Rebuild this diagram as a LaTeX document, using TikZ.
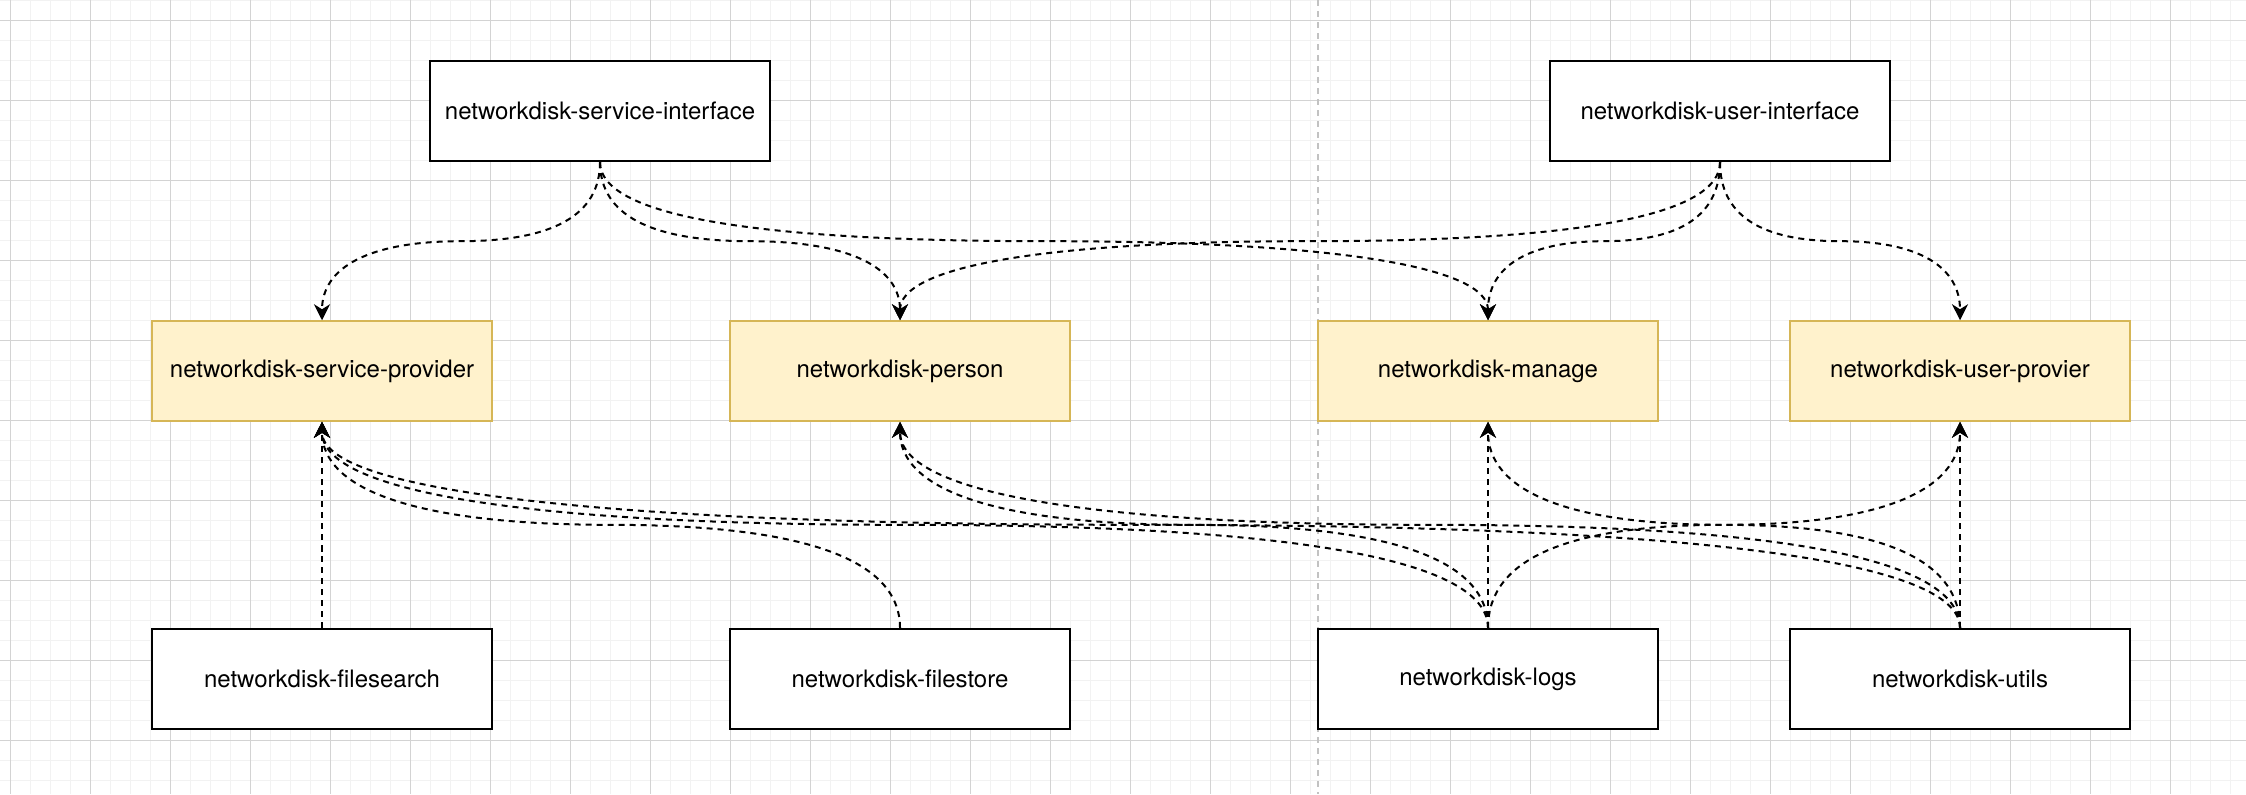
\documentclass[tikz,border=0pt]{standalone}
\usepackage{fontspec}
\setmainfont{TeX Gyre Heros}
\usetikzlibrary{arrows.meta,calc}
\definecolor{gridmajor}{HTML}{D3D3D3}
\definecolor{gridminor}{HTML}{F2F2F2}
\definecolor{provfill}{HTML}{FFF2CC}
\definecolor{provline}{HTML}{D6B656}
\definecolor{sepline}{HTML}{C2C2C2}

\begin{document}
\begin{tikzpicture}[x=0.5pt,y=-0.5pt,
  modul/.style={rectangle,draw=black,line width=1.1pt,fill=white,minimum width=170pt,minimum height=50pt,inner sep=0pt,font=\fontsize{12pt}{14pt}\selectfont},
  prov/.style={modul,draw=provline,line width=0.75pt,fill=provfill},
  dep/.style={line width=1pt,dash pattern=on 3pt off 2.5pt,-{Stealth[length=8pt,width=8pt,inset=2.5pt]},
    to path={let \p1=(\tikztostart),\p2=(\tikztotarget) in
      .. controls (\x1,{\y1+(\y2-\y1)/3}) and ({\x1+(\x2-\x1)/6},{(\y1+\y2)/2})
      .. ({(\x1+\x2)/2},{(\y1+\y2)/2})
      .. controls ({\x2-(\x2-\x1)/6},{(\y1+\y2)/2}) and (\x2,{\y2-(\y2-\y1)/3})
      .. (\tikztotarget)}},
]
\useasboundingbox (0,0) rectangle (2246,794);

%grid
\foreach \gx in {10,30,...,2230} \draw[gridminor,line width=0.5pt] (\gx,0) -- (\gx,794);
\foreach \gy in {0,20,...,780} \draw[gridminor,line width=0.5pt] (0,\gy) -- (2246,\gy);
\foreach \gx in {10,90,...,2170} \draw[gridmajor,line width=0.5pt] (\gx,0) -- (\gx,794);
\foreach \gy in {20,100,...,740} \draw[gridmajor,line width=0.5pt] (0,\gy) -- (2246,\gy);

\draw[sepline,line width=1pt,dash pattern=on 3pt off 2.5pt] (1318,0) -- (1318,794);

\node [modul] (si) at (600,111) {networkdisk-service-interface};
\node [modul] (ui) at (1720,111) {networkdisk-user-interface};

\node [prov] (sp) at (322,371) {networkdisk-service-provider};
\node [prov] (pe) at (900,371) {networkdisk-person};
\node [prov] (ma) at (1488,371) {networkdisk-manage};
\node [prov] (up) at (1960,371) {networkdisk-user-provier};

\node [modul] (fs) at (322,679) {networkdisk-filesearch};
\node [modul] (fst) at (900,679) {networkdisk-filestore};
\node [modul] (lg) at (1488,679) {networkdisk-logs};
\node [modul] (ut) at (1960,679) {networkdisk-utils};

\draw[dep] (si.south) to (sp.north);
\draw[dep] (si.south) to (pe.north);
\draw[dep] (si.south) to (ma.north);
\draw[dep] (ui.south) to (pe.north);
\draw[dep] (ui.south) to (ma.north);
\draw[dep] (ui.south) to (up.north);

\draw[dep] (fs.north) to (sp.south);
\draw[dep] (fst.north) to (sp.south);
\draw[dep] (lg.north) to (sp.south);
\draw[dep] (lg.north) to (pe.south);
\draw[dep] (lg.north) to (ma.south);
\draw[dep] (lg.north) to (up.south);
\draw[dep] (ut.north) to (sp.south);
\draw[dep] (ut.north) to (pe.south);
\draw[dep] (ut.north) to (ma.south);
\draw[dep] (ut.north) to (up.south);
\end{tikzpicture}
\end{document}
